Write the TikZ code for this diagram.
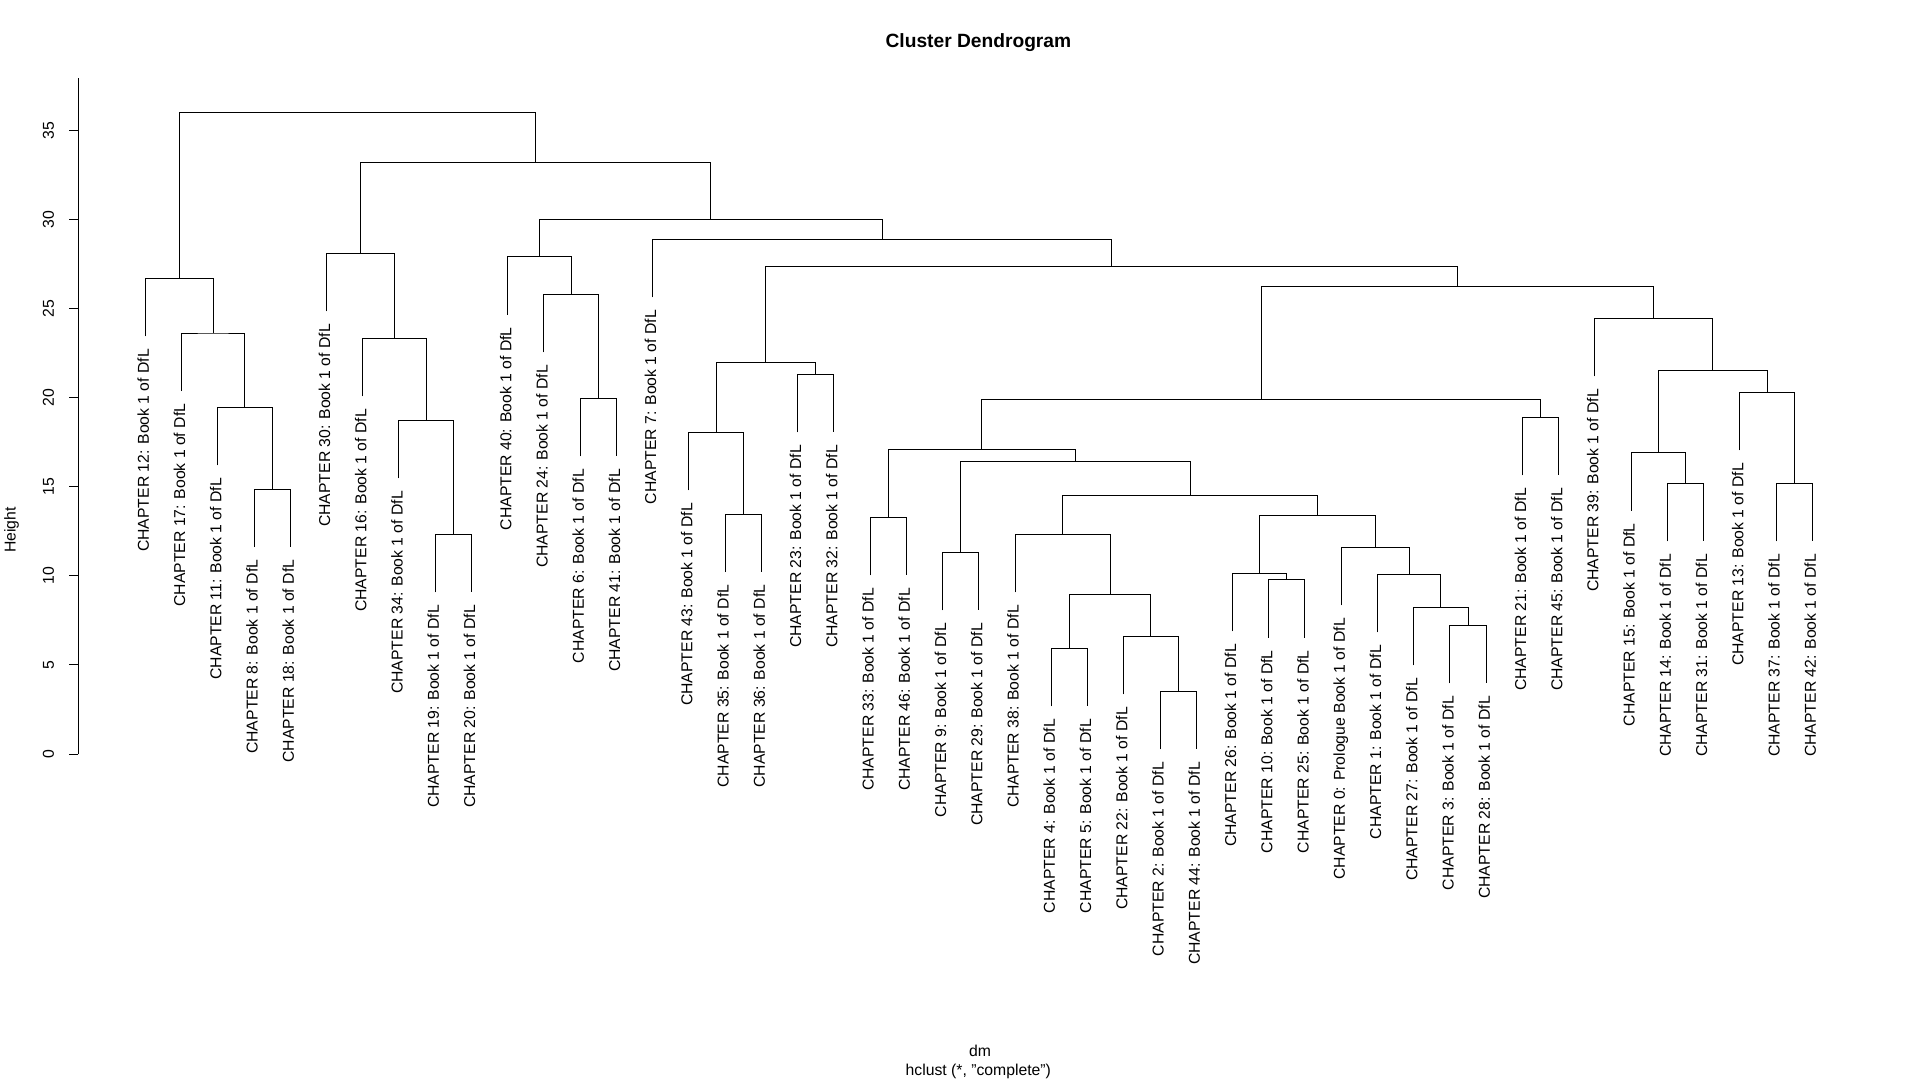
\documentclass[tikz,border=0pt]{standalone}
\usepackage{fontspec}
\setmainfont{Liberation Sans}
\newcommand\labfont{\fontsize{15.75}{18}\selectfont}
\newcommand\titfont{\fontsize{19.2}{22}\selectfont\bfseries}
\newcommand\dmerge[5]{\coordinate (#1) at (#2,#3); \draw[link] (#4) |- (#1) -| (#5);}
\begin{document}
\begin{tikzpicture}[x=1pt,y=-1pt,
  link/.style={draw=black,line width=1pt},
  leaflab/.style={rotate=90,anchor=east,inner sep=0pt,font=\labfont,text height=0.716em,text depth=0pt},
  ticklab/.style={rotate=90,inner sep=0pt,font=\labfont,text height=0.716em,text depth=0pt},
  plaintext/.style={inner sep=0pt,font=\labfont}]
\useasboundingbox[fill=white] (0,0) rectangle (1920,1080);
% axis
\coordinate (ax0) at (78.3,754);
\coordinate (axtop) at (78.3,78.3);
\draw[link] (ax0) -- (axtop);
\foreach \v in {0,5,...,35} {
  \coordinate (tk\v) at (78.3,{754-17.82*\v});
  \draw[link] (tk\v) -- ++(-9,0);
  \node[ticklab] (tl\v) at (50.2,{754-17.82*\v}) {\v};
}
\node[ticklab] (ylab) at (12,530) {Height};
% leaves
\foreach \i/\txt/\ey in {
0/{CHAPTER 12: Book 1 of DfL}/336.3,
1/{CHAPTER 17: Book 1 of DfL}/391,
2/{CHAPTER 11: Book 1 of DfL}/465.3,
3/{CHAPTER 8: Book 1 of DfL}/547,
4/{CHAPTER 18: Book 1 of DfL}/547,
5/{CHAPTER 30: Book 1 of DfL}/311.3,
6/{CHAPTER 16: Book 1 of DfL}/396.3,
7/{CHAPTER 34: Book 1 of DfL}/478.3,
8/{CHAPTER 19: Book 1 of DfL}/592.3,
9/{CHAPTER 20: Book 1 of DfL}/592.3,
10/{CHAPTER 40: Book 1 of DfL}/314.7,
11/{CHAPTER 24: Book 1 of DfL}/352.3,
12/{CHAPTER 6: Book 1 of DfL}/456.3,
13/{CHAPTER 41: Book 1 of DfL}/456.3,
14/{CHAPTER 7: Book 1 of DfL}/297.3,
15/{CHAPTER 43: Book 1 of DfL}/490.3,
16/{CHAPTER 35: Book 1 of DfL}/572,
17/{CHAPTER 36: Book 1 of DfL}/572,
18/{CHAPTER 23: Book 1 of DfL}/432.3,
19/{CHAPTER 32: Book 1 of DfL}/432.3,
20/{CHAPTER 33: Book 1 of DfL}/575.3,
21/{CHAPTER 46: Book 1 of DfL}/575.3,
22/{CHAPTER 9: Book 1 of DfL}/610.3,
23/{CHAPTER 29: Book 1 of DfL}/610.3,
24/{CHAPTER 38: Book 1 of DfL}/592.4,
25/{CHAPTER 4: Book 1 of DfL}/706.3,
26/{CHAPTER 5: Book 1 of DfL}/706.3,
27/{CHAPTER 22: Book 1 of DfL}/694.3,
28/{CHAPTER 2: Book 1 of DfL}/749.3,
29/{CHAPTER 44: Book 1 of DfL}/749.3,
30/{CHAPTER 26: Book 1 of DfL}/631.3,
31/{CHAPTER 10: Book 1 of DfL}/637.6,
32/{CHAPTER 25: Book 1 of DfL}/637.6,
33/{CHAPTER 0: Prologue Book 1 of DfL}/605.3,
34/{CHAPTER 1: Book 1 of DfL}/632.3,
35/{CHAPTER 27: Book 1 of DfL}/665.3,
36/{CHAPTER 3: Book 1 of DfL}/683.3,
37/{CHAPTER 28: Book 1 of DfL}/683.3,
38/{CHAPTER 21: Book 1 of DfL}/475.3,
39/{CHAPTER 45: Book 1 of DfL}/475.3,
40/{CHAPTER 39: Book 1 of DfL}/376.3,
41/{CHAPTER 15: Book 1 of DfL}/510.6,
42/{CHAPTER 14: Book 1 of DfL}/541.3,
43/{CHAPTER 31: Book 1 of DfL}/541.3,
44/{CHAPTER 13: Book 1 of DfL}/450.3,
45/{CHAPTER 37: Book 1 of DfL}/541.3,
46/{CHAPTER 42: Book 1 of DfL}/541.3} {
  \coordinate (l\i) at ({145.3+36.24*\i},\ey);
  \node[leaflab] (t\i) at ({145.3+36.24*\i},{\ey+12.5}) {\txt};
}
% merges
\dmerge{A1}{272.15}{489}{l3}{l4}
\dmerge{A2}{244.98}{407.3}{l2}{A1}
\dmerge{A3}{213.24}{333}{l1}{A2}
\dmerge{A}{179.27}{278.3}{l0}{A3}
\dmerge{B1}{453.35}{534.3}{l8}{l9}
\dmerge{B2}{426.18}{420.3}{l7}{B1}
\dmerge{B3}{394.44}{338.3}{l6}{B2}
\dmerge{B}{360.47}{253.3}{l5}{B3}
\dmerge{C1}{598.3}{398.3}{l12}{l13}
\dmerge{C2}{571.1}{294.3}{l11}{C1}
\dmerge{C}{539.4}{256.7}{l10}{C2}
\dmerge{F1}{743.25}{514}{l16}{l17}
\dmerge{F2}{716.08}{432.3}{l15}{F1}
\dmerge{F3}{815.75}{374.3}{l18}{l19}
\dmerge{F}{765.9}{362.3}{F2}{F3}
\dmerge{L}{888.2}{517.3}{l20}{l21}
\dmerge{N}{960.7}{552.3}{l22}{l23}
\dmerge{T}{1178.15}{691.3}{l28}{l29}
\dmerge{S}{1150.98}{636.3}{l27}{T}
\dmerge{R}{1069.4}{648.3}{l25}{l26}
\dmerge{Q}{1110.19}{594.3}{R}{S}
\dmerge{P}{1062.65}{534.4}{l24}{Q}
\dmerge{X}{1286.85}{579.6}{l31}{l32}
\dmerge{V}{1259.68}{573.3}{l30}{X}
\dmerge{AA}{1468.05}{625.3}{l36}{l37}
\dmerge{Z}{1440.88}{607.3}{l35}{AA}
\dmerge{Y}{1409.19}{574.3}{l34}{Z}
\dmerge{W}{1375.2}{547.3}{l33}{Y}
\dmerge{U}{1317.44}{515.6}{V}{W}
\dmerge{O}{1190.05}{495.5}{P}{U}
\dmerge{M}{1075.38}{461.3}{N}{O}
\dmerge{J}{981.79}{449.3}{L}{M}
\dmerge{K}{1540.55}{417.3}{l38}{l39}
\dmerge{H}{1261.17}{399.3}{J}{K}
\dmerge{AE}{1685.5}{483.3}{l42}{l43}
\dmerge{AC}{1658.3}{452.6}{l41}{AE}
\dmerge{AF}{1794.2}{483.3}{l45}{l46}
\dmerge{AD}{1767.05}{392.3}{l44}{AF}
\dmerge{AB}{1712.68}{370.3}{AC}{AD}
\dmerge{I}{1653.79}{318.3}{l40}{AB}
\dmerge{G}{1457.48}{286.3}{H}{I}
\dmerge{E}{1111.69}{266.3}{F}{G}
\dmerge{D}{882.2}{239.3}{l14}{E}
\dmerge{CD}{710.8}{219.3}{C}{D}
\dmerge{BCD}{535.64}{162.3}{B}{CD}
\dmerge{root}{357.46}{112.3}{A}{BCD}
% titles
\node[inner sep=0pt,anchor=base,font=\titfont] (title) at (978.4,47) {Cluster Dendrogram};
\node[plaintext,anchor=base] (xlab) at (980,1056.7) {dm};
\node[plaintext,anchor=base] (sub) at (978.3,1075.5) {hclust (*, "complete")};
\end{tikzpicture}
\end{document}
